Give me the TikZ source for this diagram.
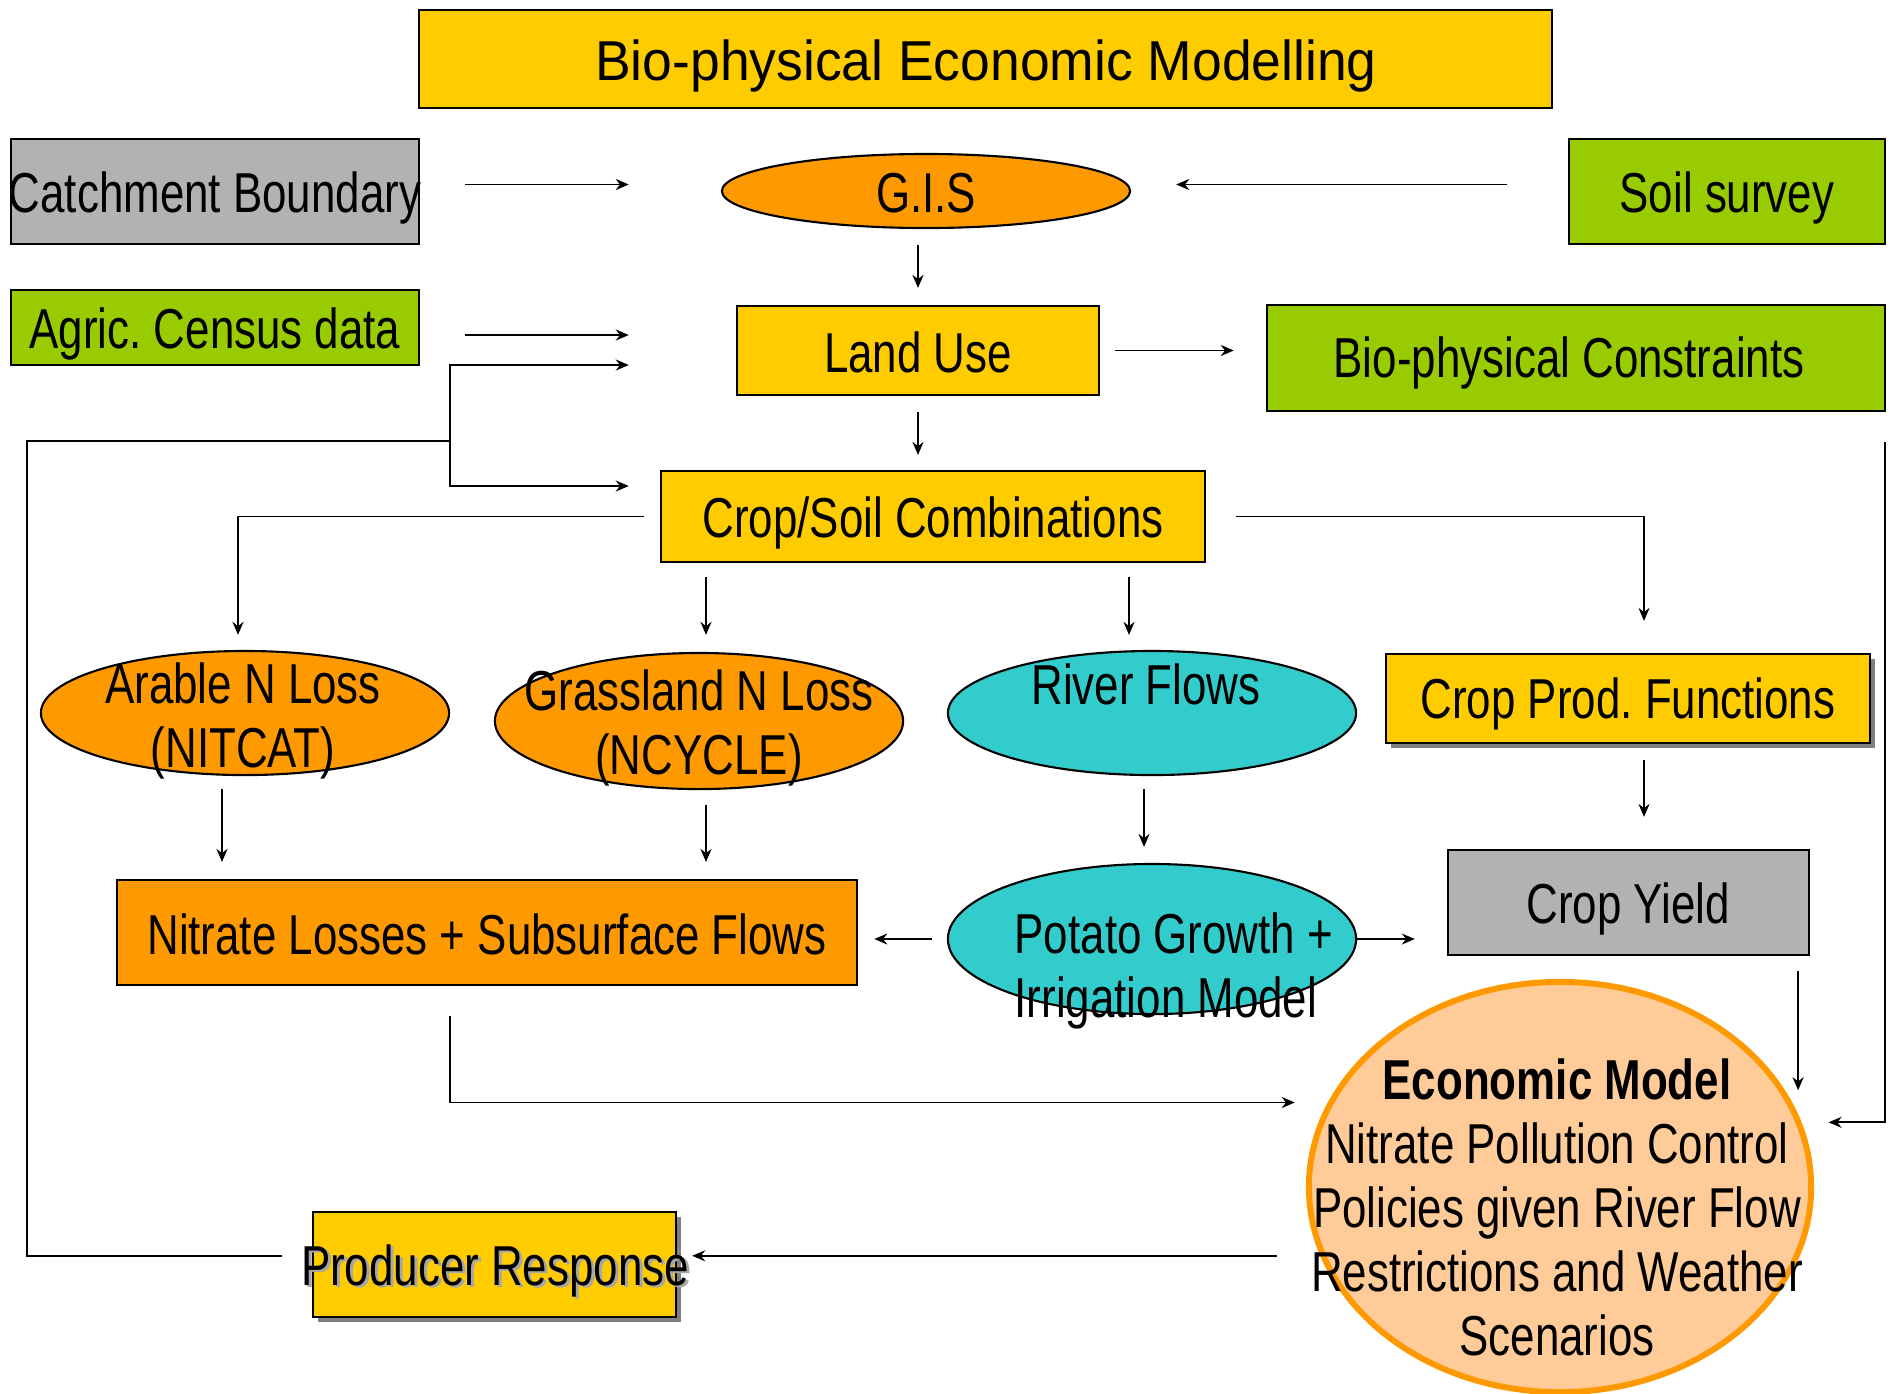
\documentclass[tikz,border=0pt]{standalone}
\usepackage{fontspec}
\setmainfont{Liberation Sans}
\newfontfamily\condf[FakeStretch=0.78]{Liberation Sans}
\newfontfamily\titlef[FakeStretch=0.95]{Liberation Sans}
\usetikzlibrary{arrows.meta,shapes.geometric,shadows,calc}
\definecolor{ylw}{HTML}{FFCC00}
\definecolor{grn}{HTML}{99CC00}
\definecolor{gry}{HTML}{B2B2B2}
\definecolor{org}{HTML}{FF9900}
\definecolor{cyn}{HTML}{33CCCC}
\definecolor{pch}{HTML}{FFCC99}
\definecolor{shd}{HTML}{808080}
\begin{document}
\begin{tikzpicture}[x=0.01cm,y=-0.01cm,
 box/.style={draw=black, line width=0.6pt, rectangle, inner sep=0pt},
 oval/.style={draw=black, line width=0.6pt, ellipse, inner sep=0pt},
 lbl/.style={font=\condf\fontsize{16}{18.2}\selectfont, inner sep=0pt, align=center},
 arr/.style={draw=black, line width=0.55pt, -{Stealth[length=0.13cm,width=0.11cm]}},
 plain/.style={draw=black, line width=0.55pt},
 shad/.style={general shadow={fill=shd, shadow xshift=0.05cm, shadow yshift=-0.05cm}}
]
\useasboundingbox[fill=white] (0,0) rectangle (1895,1393);

% shapes
\node[box, fill=ylw, minimum width=11.33cm, minimum height=0.98cm] (title) at (985.5,59) {};
\node[box, fill=gry, minimum width=4.08cm, minimum height=1.05cm] (cb) at (215,191.5) {};
\node[box, fill=grn, minimum width=3.16cm, minimum height=1.05cm] (ss) at (1727,191.5) {};
\node[box, fill=grn, minimum width=4.08cm, minimum height=0.75cm] (acd) at (215,327.5) {};
\node[oval, fill=org, minimum width=4.08cm, minimum height=0.74cm] (gis) at (926,191) {};
\node[box, fill=ylw, minimum width=3.62cm, minimum height=0.89cm] (lu) at (918,350.5) {};
\node[box, fill=grn, minimum width=6.18cm, minimum height=1.06cm] (bpc) at (1576,358) {};
\node[box, fill=ylw, minimum width=5.44cm, minimum height=0.91cm] (csc) at (933,516.5) {};
\node[oval, fill=org, minimum width=4.08cm, minimum height=1.24cm] (arable) at (245,713) {};
\node[oval, fill=org, minimum width=4.08cm, minimum height=1.36cm] (grass) at (699,721) {};
\node[oval, fill=cyn, minimum width=4.08cm, minimum height=1.24cm] (river) at (1152,713) {};
\node[box, fill=ylw, shad, minimum width=4.84cm, minimum height=0.89cm] (cpf) at (1628,698.5) {};
\node[box, fill=org, minimum width=7.40cm, minimum height=1.05cm] (nls) at (487,932.5) {};
\node[oval, fill=cyn, minimum width=4.08cm, minimum height=1.50cm] (potato) at (1152,939) {};
\node[box, fill=gry, minimum width=3.61cm, minimum height=1.05cm] (cy) at (1628.5,902.5) {};
\node[ellipse, draw=org, line width=1.7pt, fill=pch, inner sep=0pt, minimum width=5.02cm, minimum height=4.10cm] (econ) at (1560,1187) {};
\node[box, fill=ylw, shad, minimum width=3.63cm, minimum height=1.05cm] (pr) at (494.5,1264.5) {};

% connectors
\draw[arr, shorten <=0.45cm, shorten >=0.92cm] ($(cb.east)+(0,-7)$) -- ($(cb.east -| gis.west)+(0,-7)$);
\draw[arr, shorten <=0.61cm, shorten >=0.45cm] ($(ss.west)+(0,-7)$) -- ($(ss.west -| gis.east)+(0,-7)$);
\draw[arr, shorten <=0.16cm, shorten >=0.17cm] (gis.south -| lu.north) -- (lu.north);
\draw[arr, shorten <=0.45cm, shorten >=1.07cm] ($(acd.east)+(0,7.5)$) -- ($(acd.east -| lu.west)+(0,7.5)$);
\coordinate (fbL) at (27,441);
\coordinate (fbJ) at (450,441);
\draw[plain, shorten <=0.30cm] (econ.196.8 -| pr.west) -| (fbL) -- (fbJ);
\draw[arr, shorten >=1.07cm] (fbJ) |- ($(lu.west)+(0,14.5)$);
\draw[arr, shorten >=0.31cm] (fbJ) |- ($(csc.west)+(0,-30.5)$);
\draw[arr, shorten <=0.15cm, shorten >=0.32cm] (lu.east) -- (lu.east -| bpc.west);
\draw[arr, shorten <=0.16cm, shorten >=0.15cm] (lu.south) -- (lu.south |- csc.north);
\draw[arr, shorten <=0.16cm, shorten >=0.15cm] (csc.west) -| ($(arable.north)+(-7,0)$);
\draw[arr, shorten <=0.14cm, shorten >=0.17cm] ($(grass.north |- csc.south)+(7,0)$) -- ($(grass.north)+(7,0)$);
\draw[arr, shorten <=0.14cm, shorten >=0.15cm] ($(river.north |- csc.south)+(-23,0)$) -- ($(river.north)+(-23,0)$);
\draw[arr, shorten <=0.30cm, shorten >=0.32cm] (csc.east) -| ($(cpf.north)+(16,0)$);
\draw[arr, shorten <=0.13cm, shorten >=0.17cm] ($(arable.south)+(-23,0)$) -- ($(arable.south |- nls.north)+(-23,0)$);
\draw[arr, shorten <=0.15cm, shorten >=0.17cm] ($(grass.south)+(7,0)$) -- ($(grass.south |- nls.north)+(7,0)$);
\draw[arr, shorten <=0.13cm, shorten >=0.16cm] ($(river.south)+(-8,0)$) -- ($(river.south |- potato.north)+(-8,0)$);
\draw[arr, shorten <=0.15cm, shorten >=0.16cm] (potato.west) -- (potato.west -| nls.east);
\draw[arr, shorten >=0.32cm] (potato.east) -- (potato.east -| cy.west);
\draw[arr, shorten <=0.16cm, shorten >=0.32cm] ($(cpf.south)+(16,0)$) -- ($(cpf.south |- cy.north)+(16,0)$);
\draw[arr, shorten <=0.15cm, shorten >=0.24cm] (econ.17 |- cy.south) -- (econ.17);
\draw[arr, shorten <=0.30cm, shorten >=0.27cm] ($(bpc.south east)+(-1,0)$) |- (econ.15.5);
\draw[arr, shorten <=0.30cm, shorten >=0.33cm] ($(nls.south)+(-37,0)$) |- (econ.160.7);
\draw[arr, shorten <=0.43cm, shorten >=0.15cm] (econ.196.8) -- (econ.196.8 -| pr.east);

% texts
\node[lbl, font=\titlef\fontsize{16}{18}\selectfont] (titleT) at (986,66) {Bio-physical Economic Modelling};
\node[lbl] (cbT) at (215,198) {Catchment Boundary};
\node[lbl] (ssT) at (1727,198) {Soil survey};
\node[lbl] (acdT) at (215,334) {Agric.\ Census data};
\node[lbl] (gisT) at (926,193) {G.I.S};
\node[lbl] (luT) at (918,352) {Land Use};
\node[lbl] (bpcT) at (1569,363) {Bio-physical Constraints};
\node[lbl] (cscT) at (933,523) {Crop/Soil Combinations};
\node[lbl] (arableT) at (243,721) {Arable N Loss\\(NITCAT)};
\node[lbl] (grassT) at (699,728) {Grassland N Loss\\(NCYCLE)};
\node[lbl] (riverT) at (1146,684) {River Flows};
\node[lbl] (cpfT) at (1628,704) {Crop Prod.\ Functions};
\node[lbl] (nlsT) at (487,934) {Nitrate Losses + Subsurface Flows};
\node[lbl, anchor=west, align=left] (potatoT) at (1014,971) {Potato Growth +\\Irrigation Model};
\node[lbl] (cyT) at (1628,909) {Crop Yield};
\node[lbl] (econT) at (1557,1207) {\textbf{Economic Model}\\Nitrate Pollution Control\\Policies given River Flow\\Restrictions and Weather\\Scenarios};
\node[lbl, text=shd!70] (prS) at (498,1273) {Producer Response};
\node[lbl] (prT) at (495,1271) {Producer Response};
\end{tikzpicture}
\end{document}
